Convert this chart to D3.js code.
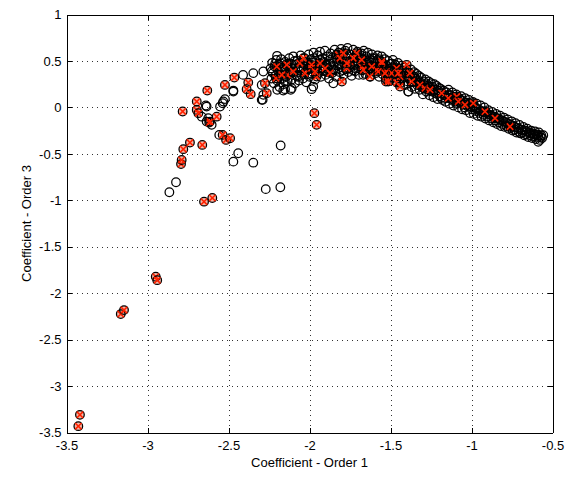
<!DOCTYPE html>
<html lang="en">
<head>
  <meta charset="UTF-8">
  <title>Coefficient scatter</title>
  <style>
    body { margin: 0; background: #ffffff; }
    svg { display: block; font-family: "Liberation Sans", Arial, sans-serif; }
    .axis path,
    .axis line { fill: none; stroke: #000000; shape-rendering: crispEdges; }
    .axis text { font-size: 13px; fill: #000000; }
    .grid line { stroke: #333333; stroke-dasharray: 1,4; shape-rendering: crispEdges; }
    .label { font-size: 13px; fill: #000000; }
  </style>
</head>
<body>
<svg id="chart" width="568" height="478"></svg>

<script src="https://d3js.org/d3.v7.min.js"></script>
<script>
  "use strict";

  var xTicks = [-3.5, -3, -2.5, -2, -1.5, -1, -0.5];
  var yTicks = [-3.5, -3, -2.5, -2, -1.5, -1, -0.5, 0, 0.5, 1];

  // scattered open circles away from the main band
  var outlierOpen = [
    [-2.865,-0.914],[-2.824,-0.806],[-2.47,-0.584],[-2.347,-0.595],[-2.44,-0.494],[-2.178,-0.41],
    [-2.27,-0.88],[-2.18,-0.86],[-2.557,-0.296],[-2.289,0.081],[-2.41,0.35],[-2.347,0.369],
    [-2.285,0.386],[-2.47,0.181],[-2.532,0.063],[-2.552,0.009],[-2.522,0.089],[-2.536,0.045],
    [-2.295,0.242],[-2.285,0.135],[-2.295,0.081],[-2.199,0.189],[-2.162,0.181],[-2.116,0.189],
    [-1.977,0.224],[-1.987,0.196],[-2.2,0.555],[-2.18,0.476],[-2.635,0.009],[-2.635,-0.153],
    [-2.604,-0.188],[-2.47,0.17],[-1.853,0.26],[-1.668,0.35],[-1.39,0.17],[-2.151,0.196],
    [-2.11,0.207],[-2.625,-0.116],[-2.665,-0.1],[-2.64,0.02]
  ];

  // open circles along the dense band
  var bandOpen = [
    [-2.24,0.42],[-2.235,0.31],[-2.23,0.48],[-2.225,0.37],[-2.22,0.26],[-2.215,0.44],[-2.21,0.34],
    [-2.205,0.51],[-2.20,0.29],[-2.195,0.40],[-2.19,0.46],[-2.185,0.22],[-2.18,0.36],[-2.175,0.52],
    [-2.17,0.31],[-2.165,0.43],[-2.16,0.25],[-2.155,0.39],[-2.15,0.49],[-2.145,0.33],[-2.14,0.45],
    [-2.135,0.28],[-2.13,0.41],[-2.125,0.53],[-2.12,0.36],[-2.115,0.47],[-2.11,0.30],[-2.105,0.42],
    [-2.10,0.55],[-2.095,0.38],[-2.09,0.26],[-2.085,0.46],[-2.08,0.34],[-2.075,0.50],[-2.07,0.40],
    [-2.065,0.29],[-2.06,0.44],[-2.055,0.56],[-2.05,0.35],[-2.045,0.48],[-2.04,0.31],[-2.035,0.42],
    [-2.03,0.53],[-2.025,0.38],[-2.02,0.27],[-2.015,0.46],[-2.01,0.41],[-2.005,0.57],[-2.00,0.33],
    [-1.995,0.45],[-1.99,0.52],[-1.985,0.36],[-1.98,0.48],[-1.975,0.59],[-1.97,0.40],[-1.965,0.30],
    [-1.96,0.50],[-1.955,0.44],[-1.95,0.56],[-1.945,0.37],[-1.94,0.47],[-1.935,0.60],[-1.93,0.33],
    [-1.925,0.43],[-1.92,0.53],[-1.915,0.39],[-1.91,0.49],[-1.905,0.61],[-1.90,0.35],[-1.895,0.46],
    [-1.89,0.55],[-1.885,0.41],[-1.88,0.31],[-1.875,0.51],[-1.87,0.58],[-1.865,0.44],[-1.86,0.37],
    [-1.855,0.54],[-1.85,0.48],[-1.845,0.62],[-1.84,0.40],[-1.835,0.33],[-1.83,0.52],[-1.825,0.45],
    [-1.82,0.59],[-1.815,0.38],[-1.81,0.50],[-1.805,0.63],[-1.80,0.43],[-1.795,0.55],[-1.79,0.35],
    [-1.785,0.47],[-1.78,0.61],[-1.775,0.41],[-1.77,0.53],[-1.765,0.64],[-1.76,0.38],[-1.755,0.49],
    [-1.75,0.57],[-1.745,0.44],[-1.74,0.34],[-1.735,0.52],[-1.73,0.62],[-1.725,0.46],[-1.72,0.39],
    [-1.715,0.56],[-1.71,0.50],[-1.705,0.60],[-1.70,0.42],[-1.695,0.35],[-1.69,0.53],[-1.685,0.47],
    [-1.68,0.58],[-1.675,0.40],[-1.67,0.51],[-1.665,0.61],[-1.66,0.44],[-1.655,0.36],[-1.65,0.55],
    [-1.645,0.48],[-1.64,0.59],[-1.635,0.41],[-1.63,0.52],[-1.625,0.33],[-1.62,0.45],[-1.615,0.57],
    [-1.61,0.39],[-1.605,0.50],[-1.60,0.43],
    [-1.595,0.53],[-1.59,0.37],[-1.585,0.48],[-1.58,0.56],[-1.575,0.41],[-1.57,0.33],[-1.565,0.50],
    [-1.56,0.44],[-1.555,0.55],[-1.55,0.36],[-1.545,0.47],[-1.54,0.40],[-1.535,0.52],[-1.53,0.31],
    [-1.525,0.45],[-1.52,0.38],[-1.515,0.50],[-1.51,0.42],[-1.505,0.29],[-1.50,0.47],[-1.495,0.35],
    [-1.49,0.43],[-1.485,0.51],[-1.48,0.32],[-1.475,0.40],[-1.47,0.46],[-1.465,0.28],[-1.46,0.37],
    [-1.455,0.48],[-1.45,0.34],[-1.445,0.42],[-1.44,0.26],[-1.435,0.39],[-1.43,0.45],[-1.425,0.31],
    [-1.42,0.36],[-1.415,0.43],[-1.41,0.24],[-1.405,0.33],[-1.40,0.40],[-1.395,0.28],[-1.39,0.17],
    [-1.385,0.37],[-1.38,0.30],[-1.375,0.41],[-1.37,0.22],[-1.365,0.34],[-1.36,0.27],[-1.355,0.38],
    [-1.35,0.20],[-1.345,0.31],[-1.34,0.36],[-1.335,0.24],[-1.33,0.29],[-1.325,0.34],[-1.32,0.19],
    [-1.315,0.27],[-1.31,0.32],[-1.305,0.22],[-1.30,0.14],[-1.295,0.28],[-1.29,0.24],[-1.285,0.30],
    [-1.28,0.17],[-1.275,0.25],[-1.27,0.20],[-1.265,0.28],[-1.26,0.13],[-1.255,0.22],[-1.25,0.26],
    [-1.245,0.17],[-1.24,0.22],[-1.235,0.11],[-1.23,0.25],[-1.225,0.19],[-1.22,0.15],[-1.215,0.23],
    [-1.21,0.09],[-1.205,0.18],[-1.20,0.21],
    [-1.195,0.12],[-1.19,0.20],[-1.184,0.15],[-1.178,0.08],[-1.172,0.18],[-1.166,0.13],[-1.16,0.06],
    [-1.154,0.16],[-1.148,0.11],[-1.142,0.19],[-1.136,0.04],[-1.13,0.13],[-1.124,0.09],[-1.118,0.16],
    [-1.112,0.02],[-1.106,0.11],[-1.10,0.06],[-1.094,0.14],[-1.088,0.08],[-1.082,0.00],[-1.076,0.10],
    [-1.07,0.05],[-1.064,0.12],[-1.058,-0.02],[-1.052,0.07],[-1.046,0.03],[-1.04,0.10],[-1.034,-0.03],
    [-1.028,0.05],[-1.022,0.01],[-1.016,0.08],[-1.01,-0.06],[-1.004,0.03],[-0.998,-0.02],[-0.992,0.06],
    [-0.986,-0.07],[-0.98,0.01],[-0.974,-0.04],[-0.968,0.04],[-0.962,-0.09],[-0.956,-0.02],[-0.95,-0.06],
    [-0.944,0.02],[-0.938,-0.10],[-0.932,-0.04],[-0.926,-0.08],[-0.92,0.00],[-0.914,-0.12],[-0.908,-0.06],
    [-0.902,-0.10],[-0.896,-0.03],[-0.89,-0.14],[-0.884,-0.08],[-0.878,-0.12],[-0.872,-0.05],[-0.866,-0.16],
    [-0.86,-0.10],[-0.854,-0.14],[-0.848,-0.07],[-0.842,-0.18],[-0.836,-0.12],[-0.83,-0.16],[-0.824,-0.09],
    [-0.818,-0.20],[-0.812,-0.14],[-0.806,-0.18],[-0.80,-0.11],[-0.794,-0.21],[-0.788,-0.16],[-0.782,-0.20],
    [-0.776,-0.13],[-0.77,-0.23],[-0.764,-0.18],[-0.758,-0.22],[-0.752,-0.15],[-0.746,-0.25],[-0.74,-0.20],
    [-0.734,-0.24],[-0.728,-0.17],[-0.722,-0.27],[-0.716,-0.22],[-0.71,-0.26],[-0.704,-0.19],[-0.698,-0.28],
    [-0.692,-0.24],[-0.686,-0.27],[-0.68,-0.21],[-0.674,-0.30],[-0.668,-0.25],[-0.662,-0.29],[-0.656,-0.23],
    [-0.65,-0.32],[-0.644,-0.27],[-0.638,-0.30],[-0.632,-0.25],[-0.626,-0.33],[-0.62,-0.28],[-0.614,-0.31],
    [-0.608,-0.26],[-0.602,-0.34],[-0.596,-0.29],[-0.59,-0.32],[-0.584,-0.27],[-0.578,-0.35],[-0.57,-0.30],
    [-0.564,-0.33],[-0.557,-0.30],[-0.588,-0.37]
  ];

  // extra circles filling in the core of the band
  var bandCore = [
    [-2.232,0.39],[-2.212,0.47],[-2.192,0.33],[-2.172,0.41],[-2.152,0.28],[-2.132,0.47],[-2.112,0.38],
    [-2.092,0.50],[-2.072,0.33],[-2.052,0.43],[-2.032,0.49],[-2.012,0.36],[-1.992,0.42],[-1.972,0.53],
    [-1.952,0.39],[-1.932,0.51],[-1.912,0.44],[-1.892,0.38],[-1.872,0.47],[-1.852,0.41],[-1.832,0.57],
    [-1.812,0.46],[-1.792,0.40],[-1.772,0.58],[-1.752,0.45],[-1.732,0.40],[-1.712,0.45],[-1.692,0.57],
    [-1.672,0.46],[-1.652,0.41],[-1.632,0.49],[-1.612,0.53],[-1.592,0.44],[-1.572,0.52],[-1.552,0.40],
    [-1.532,0.43],[-1.512,0.35],[-1.492,0.47],[-1.472,0.37],[-1.452,0.41],[-1.432,0.35],[-1.412,0.38],
    [-1.392,0.33],[-1.372,0.27],[-1.352,0.33],[-1.332,0.27],[-1.312,0.25],[-1.292,0.20],[-1.272,0.23],
    [-1.252,0.18],[-1.232,0.19],[-1.212,0.16],
    [-1.187,0.10],[-1.163,0.10],[-1.139,0.14],[-1.115,0.07],[-1.091,0.04],[-1.067,0.08],[-1.043,0.00],
    [-1.019,0.04],[-0.995,0.00],[-0.971,-0.01],[-0.947,-0.04],[-0.923,-0.05],[-0.899,-0.07],[-0.875,-0.09],
    [-0.851,-0.11],[-0.827,-0.13],[-0.803,-0.15],[-0.779,-0.17],[-0.755,-0.19],[-0.731,-0.21],[-0.707,-0.23],
    [-0.683,-0.25],[-0.659,-0.26],[-0.635,-0.28],[-0.611,-0.29],[-0.587,-0.30],[-0.573,-0.32]
  ];

  // circles that also carry a red cross
  var flagged = [
    [-3.417,-3.31],[-3.427,-3.432],[-3.165,-2.225],[-3.145,-2.182],[-2.949,-1.823],[-2.94,-1.86],
    [-2.651,-1.015],[-2.6,-0.975],[-2.793,-0.61],[-2.789,-0.566],[-2.779,-0.45],[-2.738,-0.379],
    [-2.662,-0.404],[-2.536,-0.296],[-2.515,-0.35],[-2.49,-0.332],[-2.619,-0.164],[-2.614,-0.153],
    [-2.573,-0.1],[-2.696,-0.027],[-2.686,-0.062],[-2.783,-0.044],[-2.696,0.063],[-2.631,0.181],
    [-2.522,0.242],[-2.464,0.321],[-2.378,0.267],[-2.388,0.196],[-2.363,0.142],[-2.275,0.26],
    [-2.264,0.153],[-2.207,0.314],[-2.137,0.35],[-1.97,-0.062],[-1.956,-0.188],[-1.8,0.278],
    [-1.627,0.332],[-1.528,0.278],[-1.462,0.267],
    [-2.202,0.44],[-2.171,0.35],[-2.14,0.458],[-2.1,0.386],[-2.059,0.476],[-2.028,0.369],
    [-1.987,0.422],[-1.956,0.332],[-2.038,0.53],[-1.987,0.458],[-1.966,0.386],[-1.935,0.476],
    [-1.904,0.422],[-1.873,0.369],[-1.822,0.566],[-1.812,0.53],[-1.77,0.422],[-1.75,0.494],
    [-1.709,0.584],[-1.678,0.44],[-1.585,0.404],[-1.554,0.476],[-1.524,0.386],[-1.493,0.369],
    [-1.462,0.422],[-1.441,0.332],[-1.40,0.458],[-1.38,0.369],[-1.791,0.584],[-1.73,0.53],
    [-1.77,0.476],[-1.678,0.512],[-1.668,0.404],[-1.616,0.44],[-1.554,0.494],[-1.575,0.386],
    [-1.534,0.369],[-1.514,0.278],[-1.452,0.369],[-1.441,0.224],[-1.369,0.278],[-1.318,0.242],
    [-1.287,0.207],[-1.256,0.189],[-1.184,0.153],[-1.143,0.099],[-1.091,0.117],[-1.081,0.063],
    [-1.04,0.027],[-0.989,0.045],[-0.917,-0.045],[-0.855,-0.116],[-0.762,-0.207]
  ];

  var svg = d3.select("#chart");

  var xScale = d3.scaleLinear().domain([-3.5, -0.5]).range([66.5, 552.5]);
  var yScale = d3.scaleLinear().domain([-3.5, 1]).range([432.5, 14.5]);

  svg.append("rect")
    .attr("x", 0).attr("y", 0)
    .attr("width", 568).attr("height", 478)
    .attr("fill", "#ffffff");

  // dotted grid
  var grid = svg.append("g").attr("class", "grid");
  grid.selectAll("line.gx")
    .data(xTicks)
    .enter()
    .append("line")
    .attr("class", "gx")
    .attr("x1", function(d){ return Math.round(xScale(d)) + 0.5; })
    .attr("x2", function(d){ return Math.round(xScale(d)) + 0.5; })
    .attr("y1", yScale(1))
    .attr("y2", yScale(-3.5));
  grid.selectAll("line.gy")
    .data(yTicks)
    .enter()
    .append("line")
    .attr("class", "gy")
    .attr("y1", function(d){ return Math.round(yScale(d)) + 0.5; })
    .attr("y2", function(d){ return Math.round(yScale(d)) + 0.5; })
    .attr("x1", xScale(-3.5))
    .attr("x2", xScale(-0.5));

  function px(d){ return xScale(d[0]); }
  function py(d){ return yScale(d[1]); }

  // pale fill under the flagged points, drawn first so the band stays dark
  svg.append("g")
    .selectAll("circle")
    .data(flagged)
    .enter()
    .append("circle")
    .attr("cx", px)
    .attr("cy", py)
    .attr("r", 4.3)
    .attr("fill", "#f5b5a5");

  // open circles
  var openPts = outlierOpen.concat(bandOpen, bandCore);
  svg.append("g")
    .selectAll("circle")
    .data(openPts)
    .enter()
    .append("circle")
    .attr("cx", px)
    .attr("cy", py)
    .attr("r", 4.3)
    .attr("fill", "none")
    .attr("stroke", "#000000")
    .attr("stroke-width", 1.25);

  // circled points with a red cross on top
  var marks = svg.append("g")
    .selectAll("g")
    .data(flagged)
    .enter()
    .append("g")
    .attr("transform", function(d){ return "translate(" + px(d) + "," + py(d) + ")"; });
  marks.append("circle")
    .attr("r", 4.3)
    .attr("fill", "none")
    .attr("stroke", "#000000")
    .attr("stroke-width", 1.25);
  marks.append("path")
    .attr("d", "M-3.2,-3.2L3.2,3.2M-3.2,3.2L3.2,-3.2")
    .attr("stroke", "#ff2200")
    .attr("stroke-width", 1.6);

  // axes, ticks pointing inward on all four sides
  function fmt(d){ return String(d); }

  svg.append("g")
    .attr("class", "axis")
    .attr("transform", "translate(0," + yScale(-3.5) + ")")
    .call(d3.axisBottom(xScale).tickValues(xTicks).tickFormat(fmt)
      .tickSizeInner(-5).tickSizeOuter(0).tickPadding(8));
  svg.append("g")
    .attr("class", "axis")
    .attr("transform", "translate(0," + yScale(1) + ")")
    .call(d3.axisTop(xScale).tickValues(xTicks).tickFormat("")
      .tickSizeInner(-5).tickSizeOuter(0));
  svg.append("g")
    .attr("class", "axis")
    .attr("transform", "translate(" + xScale(-3.5) + ",0)")
    .call(d3.axisLeft(yScale).tickValues(yTicks).tickFormat(fmt)
      .tickSizeInner(-5).tickSizeOuter(0).tickPadding(5));
  svg.append("g")
    .attr("class", "axis")
    .attr("transform", "translate(" + xScale(-0.5) + ",0)")
    .call(d3.axisRight(yScale).tickValues(yTicks).tickFormat("")
      .tickSizeInner(-5).tickSizeOuter(0));

  svg.selectAll(".axis text").attr("font-family", null);

  // axis titles
  svg.append("text")
    .attr("class", "label")
    .attr("x", (xScale(-3.5) + xScale(-0.5)) / 2)
    .attr("y", 467)
    .attr("text-anchor", "middle")
    .text("Coefficient - Order 1");
  svg.append("text")
    .attr("class", "label")
    .attr("transform", "translate(31," + (yScale(1) + yScale(-3.5)) / 2 + ") rotate(-90)")
    .attr("text-anchor", "middle")
    .text("Coefficient - Order 3");
</script>
</body>
</html>
